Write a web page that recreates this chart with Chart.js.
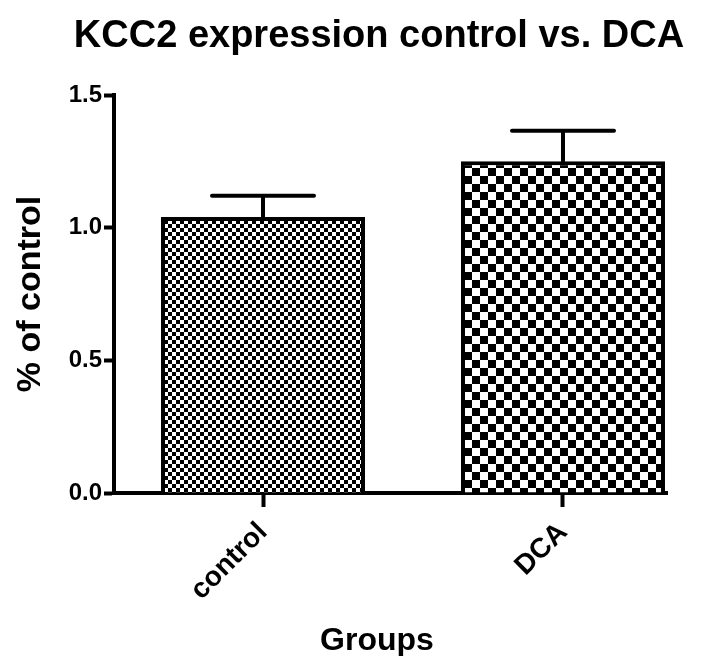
<!DOCTYPE html>
<html>
<head>
<meta charset="utf-8">
<script src="https://cdn.jsdelivr.net/npm/chart.js@4/dist/chart.umd.min.js"></script>
<style>
  html, body { margin: 0; padding: 0; background: #fff; }
  #wrap { width: 710px; height: 656px; }
</style>
</head>
<body>
<div id="wrap"><canvas id="c" width="710" height="656"></canvas></div>
<script>
// Group names, means and SEM (upper error only)
const groups = ['control', 'DCA'];
const means = [1.04, 1.25];
const sems = [0.08, 0.115];
const yTicks = [0, 0.5, 1.0, 1.5];
const chartTitle = 'KCC2 expression control vs. DCA';
const xTitle = 'Groups';

const FONT = '"Liberation Sans", Arial, Helvetica, sans-serif';

// Checkerboard fills: fine for control, coarse for DCA
function checker(cell) {
  const c = document.createElement('canvas');
  c.width = c.height = cell * 2;
  const g = c.getContext('2d');
  g.fillStyle = '#fff';
  g.fillRect(0, 0, cell * 2, cell * 2);
  g.fillStyle = '#000';
  g.fillRect(0, 0, cell, cell);
  g.fillRect(cell, cell, cell, cell);
  return g.createPattern(c, 'repeat');
}
const fills = [checker(4), checker(8)];

// Upward-only error bars with a flat cap
const errorBars = {
  id: 'errorBars',
  beforeDatasetsDraw(chart) {
    const ctx = chart.ctx;
    const y = chart.scales.y;
    const meta = chart.getDatasetMeta(0);
    ctx.save();
    ctx.strokeStyle = '#000';
    ctx.lineWidth = 4;
    ctx.lineCap = 'round';
    meta.data.forEach((bar, i) => {
      const top = y.getPixelForValue(means[i] + sems[i]);
      const base = y.getPixelForValue(means[i]);
      const half = bar.width * 0.25;
      ctx.beginPath();
      ctx.moveTo(bar.x, base);
      ctx.lineTo(bar.x, top);
      ctx.moveTo(bar.x - half, top);
      ctx.lineTo(bar.x + half, top);
      ctx.stroke();
    });
    ctx.restore();
  }
};

// Chart heading and x-axis caption
const captions = {
  id: 'captions',
  afterDraw(chart) {
    const ctx = chart.ctx;
    ctx.save();
    ctx.fillStyle = '#000';
    ctx.textAlign = 'center';
    ctx.textBaseline = 'alphabetic';
    ctx.font = 'bold 38px ' + FONT;
    ctx.fillText(chartTitle, 379, 47);
    ctx.font = 'bold 32px ' + FONT;
    ctx.fillText(xTitle, 377, 650);
    ctx.restore();
  }
};

new Chart(document.getElementById('c'), {
  type: 'bar',
  data: {
    datasets: [{
      data: groups.map((g, i) => ({ x: i, y: means[i] })),
      backgroundColor: fills,
      borderColor: '#000',
      borderWidth: 4,
      borderSkipped: 'start',
      categoryPercentage: 1,
      barPercentage: 0.68
    }]
  },
  options: {
    responsive: false,
    animation: false,
    events: [],
    layout: { padding: { top: 95, right: 43, bottom: 0, left: 0 } },
    plugins: { legend: { display: false }, tooltip: { enabled: false } },
    scales: {
      x: {
        type: 'linear',
        offset: false,
        min: -0.4967,
        max: 1.3467,
        z: 1,
        afterFit(s) { s.height = 163; },
        afterBuildTicks(s) { s.ticks = groups.map((g, i) => ({ value: i })); },
        grid: { display: true, offset: false, drawOnChartArea: false, drawTicks: true, tickLength: 14, tickWidth: 4, tickColor: '#000' },
        border: { display: true, width: 4, color: '#000' },
        ticks: {
          color: '#000',
          font: { family: FONT, size: 28, weight: 'bold' },
          minRotation: 45,
          maxRotation: 45,
          padding: 9,
          callback: (v) => groups[v] ?? ''
        }
      },
      y: {
        min: 0,
        max: 1.5,
        z: 1,
        afterFit(s) { s.width = 114; },
        afterBuildTicks(s) { s.ticks = yTicks.map(v => ({ value: v })); },
        grid: { display: true, drawOnChartArea: false, drawTicks: true, tickLength: 10, tickWidth: 4, tickColor: '#000' },
        border: { display: true, width: 4, color: '#000' },
        ticks: {
          color: '#000',
          font: { family: FONT, size: 24, weight: 'bold' },
          padding: 2,
          callback: (v) => Number(v).toFixed(1)
        },
        title: {
          display: true,
          text: '% of control',
          color: '#000',
          font: { family: FONT, size: 34, weight: 'bold' },
          padding: { top: 10, bottom: 0 }
        }
      }
    }
  },
  plugins: [errorBars, captions]
});
</script>
</body>
</html>
